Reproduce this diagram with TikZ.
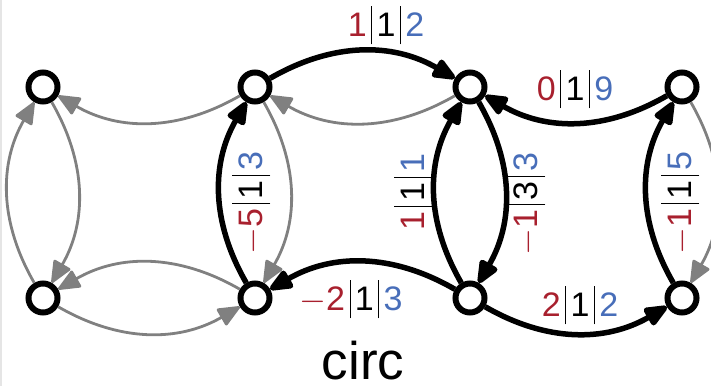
\documentclass[tikz,border=0pt]{standalone}
\usepackage{fontspec}
\setmainfont{Liberation Sans}
\usetikzlibrary{arrows.meta}
\definecolor{lred}{RGB}{168,32,46}
\definecolor{lblue}{RGB}{72,110,185}
\definecolor{edgegray}{RGB}{128,128,128}
\newcommand{\vbar}{\hspace{0.13em}\rule[-0.24em]{0.5pt}{1.14em}\hspace{0.13em}}
\newcommand{\trip}[3]{{\color{lred}#1}\vbar #2\vbar{\color{lblue}#3}}
\begin{document}
\begin{tikzpicture}[x=0.5pt,y=-0.5pt,
  vtx/.style={circle,draw,line width=3pt,minimum size=14.5pt,inner sep=0pt,fill=white},
  gedge/.style={draw=edgegray,line width=1.4pt,-{Triangle[round,length=12pt,width=10pt]}},
  bedge/.style={draw=black,line width=2.75pt,-{Triangle[round,length=13.5pt,width=10.5pt]}},
  lbl/.style={font=\fontsize{17}{19}\selectfont,inner sep=0pt}]
\useasboundingbox (0,0) rectangle (711,386);
\draw[color=black!10,line width=0.6pt] (1,0) -- (1,386);
% vertices
\node[vtx] (A) at (43,87) {};
\node[vtx] (B) at (43,298) {};
\node[vtx] (C) at (255,87) {};
\node[vtx] (D) at (255,298) {};
\node[vtx] (E) at (470,87) {};
\node[vtx] (F) at (470,298) {};
\node[vtx] (G) at (682,87) {};
\node[vtx] (H) at (682,298) {};
% gray edges
\draw[gedge] (C) to[bend left=30] (A);
\draw[gedge] (A) to[bend left=30] (B);
\draw[gedge] (B) to[bend left=30] (A);
\draw[gedge] (D) to[bend right=30] (B);
\draw[gedge] (B) to[bend right=30] (D);
\draw[gedge] (C) to[bend left=30] (D);
\draw[gedge] (E) to[bend left=30] (C);
\draw[gedge] (G) to[bend left=30] (H);
% black edges
\draw[bedge] (D) to[bend left=30] (C);
\draw[bedge] (C) to[bend left=30] (E);
\draw[bedge] (F) to[bend left=30] (E);
\draw[bedge] (E) to[bend left=30] (F);
\draw[bedge] (G) to[bend left=30] (E);
\draw[bedge] (F) to[bend right=30] (D);
\draw[bedge] (F) to[bend right=30] (H);
\draw[bedge] (H) to[bend left=30] (G);
% labels
\node[lbl] (l1) at (386,25) {\trip{1}{1}{2}};
\node[lbl] (l2) at (575,89) {\trip{0}{1}{9}};
\node[lbl] (l3) at (351,299) {\trip{$-$2}{1}{3}};
\node[lbl] (l4) at (580,305) {\trip{2}{1}{2}};
\node[lbl,rotate=90] (l5) at (251,203) {\trip{$-$5}{1}{3}};
\node[lbl,rotate=90] (l6) at (413,192) {\trip{1}{1}{1}};
\node[lbl,rotate=90] (l7) at (526,204) {\trip{$-$1}{3}{3}};
\node[lbl,rotate=90] (l8) at (680,203) {\trip{$-$1}{1}{5}};
\node[font=\fontsize{26.5}{28}\selectfont,anchor=base,inner sep=0pt] (cap) at (363,379) {circ};
\end{tikzpicture}
\end{document}
